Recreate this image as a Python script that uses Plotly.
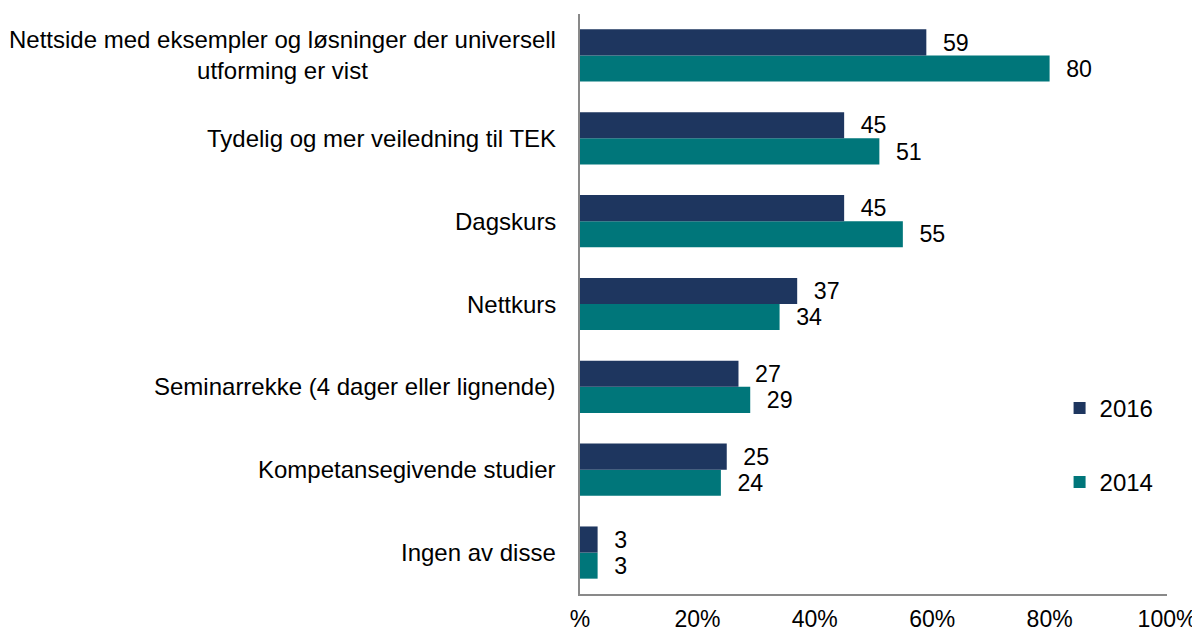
import plotly.graph_objects as go

categories = [
    "Nettside med eksempler og løsninger der universell<br>utforming er vist",
    "Tydelig og mer veiledning til TEK",
    "Dagskurs",
    "Nettkurs",
    "Seminarrekke (4 dager eller lignende)",
    "Kompetansegivende studier",
    "Ingen av disse",
]
values_2016 = [59, 45, 45, 37, 27, 25, 3]
values_2014 = [80, 51, 55, 34, 29, 24, 3]
tick_vals = [0, 20, 40, 60, 80, 100]
tick_text = ["%", "20%", "40%", "60%", "80%", "100%"]

COL_2016 = "#1E365F"
COL_2014 = "#00767A"
FONT = "Liberation Sans, Arial, sans-serif"
FS_CAT = 24
FS_LBL = 24
FS_TICK = 23
PAD = "\u2002\u200a"

fig = go.Figure()
fig.add_trace(go.Bar(
    y=categories, x=values_2014, name="2014", orientation="h",
    marker=dict(color=COL_2014, line=dict(width=0)),
    text=[f"{PAD}{v}" for v in values_2014], textposition="outside",
    textfont=dict(size=FS_LBL, color="#000", family=FONT),
    cliponaxis=False, legendgroup="b", legendrank=2,
))
fig.add_trace(go.Bar(
    y=categories, x=values_2016, name="2016", orientation="h",
    marker=dict(color=COL_2016, line=dict(width=0)),
    text=[f"{PAD}{v}" for v in values_2016], textposition="outside",
    textfont=dict(size=FS_LBL, color="#000", family=FONT),
    cliponaxis=False, legendgroup="a", legendrank=1,
))

for c in categories:
    fig.add_annotation(
        x=0, xref="paper", y=c, yref="y", text=c, showarrow=False,
        xanchor="right", xshift=-22, align="center",
        font=dict(size=FS_CAT, color="#000", family=FONT),
    )

fig.update_layout(
    width=1192, height=627,
    margin=dict(l=572, r=33, t=6, b=41, autoexpand=False),
    barmode="group", bargap=0.37, bargroupgap=0,
    plot_bgcolor="white", paper_bgcolor="white",
    font=dict(family=FONT, size=FS_CAT, color="#000"),
    uniformtext=dict(mode=False),
    showlegend=True,
    legend=dict(
        x=0.817, y=0.359, xanchor="left", yanchor="top",
        font=dict(size=FS_CAT, color="#000", family=FONT),
        tracegroupgap=40, bgcolor="rgba(0,0,0,0)",
        itemwidth=30,
    ),
    xaxis=dict(
        range=[0, 100], tickvals=tick_vals, ticktext=tick_text,
        showgrid=False, zeroline=False, showline=True,
        linecolor="#898989", linewidth=2, ticks="",
        tickfont=dict(size=FS_TICK, color="#000", family=FONT),
        ticklabelstandoff=3, automargin=False, fixedrange=True,
    ),
    yaxis=dict(
        categoryorder="array", categoryarray=categories[::-1],
        showticklabels=False, showgrid=False, zeroline=False,
        showline=True, linecolor="#898989", linewidth=2, ticks="",
        automargin=False, fixedrange=True,
    ),
)

fig.write_html("out.html")
